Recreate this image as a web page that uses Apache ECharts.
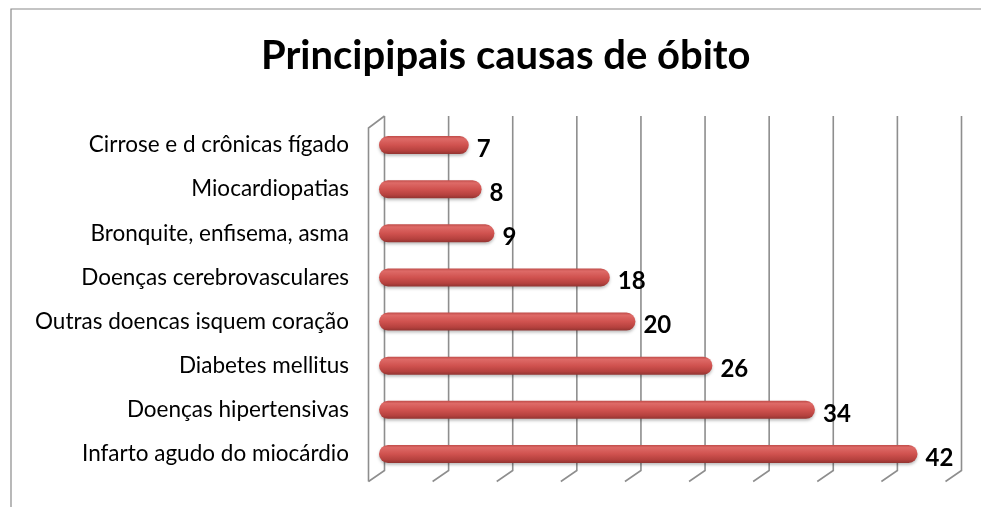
<!DOCTYPE html>
<html>
<head>
<meta charset="utf-8">
<script src="https://cdn.jsdelivr.net/npm/echarts@6/dist/echarts.min.js"></script>
<style>
  html, body { margin: 0; padding: 0; background: #fff; }
  #chart { width: 981px; height: 507px; }
</style>
</head>
<body>
<div id="chart"></div>
<script>
// Data (bottom to top, as the category axis draws them)
const categories = [
    'Infarto agudo do miocárdio',
    'Doenças hipertensivas',
    'Diabetes mellitus',
    'Outras doencas isquem coração',
    'Doenças cerebrovasculares',
    'Bronquite, enfisema, asma',
    'Miocardiopatias',
    'Cirrose e d crônicas fígado'
];
const deaths = [42, 34, 26, 20, 18, 9, 8, 7];
const xTicks = [0, 5, 10, 15, 20, 25, 30, 35, 40, 45];

const chart = echarts.init(document.getElementById('chart'));

// 3D-looking walls: vertical line at the back, short diagonal on the floor
function renderWall(params, api) {
    const cs = params.coordSys;
    const x = api.coord([api.value(0), 0])[0];
    const top = cs.y, bottom = cs.y + cs.height;
    const bx = x + 5.5, fx = x - 10.5;
    const lineStyle = { stroke: '#8e8e8e', lineWidth: 1.6, fill: null };
    const children = [{
        type: 'polyline',
        shape: { points: [[bx, top - 7], [bx, bottom - 5.5], [fx, bottom + 5.5]] },
        style: lineStyle
    }];
    if (params.dataIndex === 0) {
        children.push({
            type: 'polyline',
            shape: { points: [[bx, top - 7], [fx, top + 5], [fx, bottom + 5.5]] },
            style: lineStyle
        });
    }
    return { type: 'group', children: children };
}

var option = {
    animation: false,
    textStyle: { fontFamily: 'Lato' },
    title: {
        text: 'Principipais causas de óbito',
        left: 256,
        top: 31,
        textStyle: { fontFamily: 'Lato', fontSize: 40, fontWeight: 'bold', color: '#000' }
    },
    graphic: [{
        type: 'rect',
        shape: { x: 11, y: 9, width: 1000, height: 600 },
        style: { fill: null, stroke: '#8a8a8a', lineWidth: 1.2 },
        silent: true
    }],
    grid: {
        left: 379,
        right: 25,
        top: 123,
        bottom: 31
    },
    xAxis: {
        type: 'value',
        min: 0,
        max: 45,
        interval: 5,
        axisLabel: { show: false },
        axisLine: { show: false },
        axisTick: { show: false },
        splitLine: { show: false }
    },
    yAxis: {
        type: 'category',
        data: categories,
        axisLine: { show: false },
        axisTick: { show: false },
        axisLabel: {
            margin: 30,
            fontFamily: 'Lato',
            fontSize: 22.5,
            color: '#000'
        }
    },
    series: [
        {
            type: 'custom',
            renderItem: renderWall,
            data: xTicks.map(v => [v, 0]),
            silent: true,
            z: 1
        },
        {
            type: 'bar',
            data: deaths,
            barWidth: 18,
            z: 3,
            itemStyle: {
                borderRadius: 9,
                color: new echarts.graphic.LinearGradient(0, 0, 0, 1, [
                    { offset: 0, color: '#c04c49' },
                    { offset: 0.15, color: '#de6a67' },
                    { offset: 0.5, color: '#d0524f' },
                    { offset: 0.82, color: '#b5413e' },
                    { offset: 1, color: '#923431' }
                ]),
                shadowColor: 'rgba(0,0,0,0.25)',
                shadowBlur: 3,
                shadowOffsetY: 2
            },
            label: {
                show: true,
                position: 'right',
                distance: 8,
                offset: [0, 4],
                fontFamily: 'Lato',
                fontSize: 24,
                fontWeight: 'bold',
                color: '#000'
            }
        }
    ]
};

chart.setOption(option);
</script>
</body>
</html>
